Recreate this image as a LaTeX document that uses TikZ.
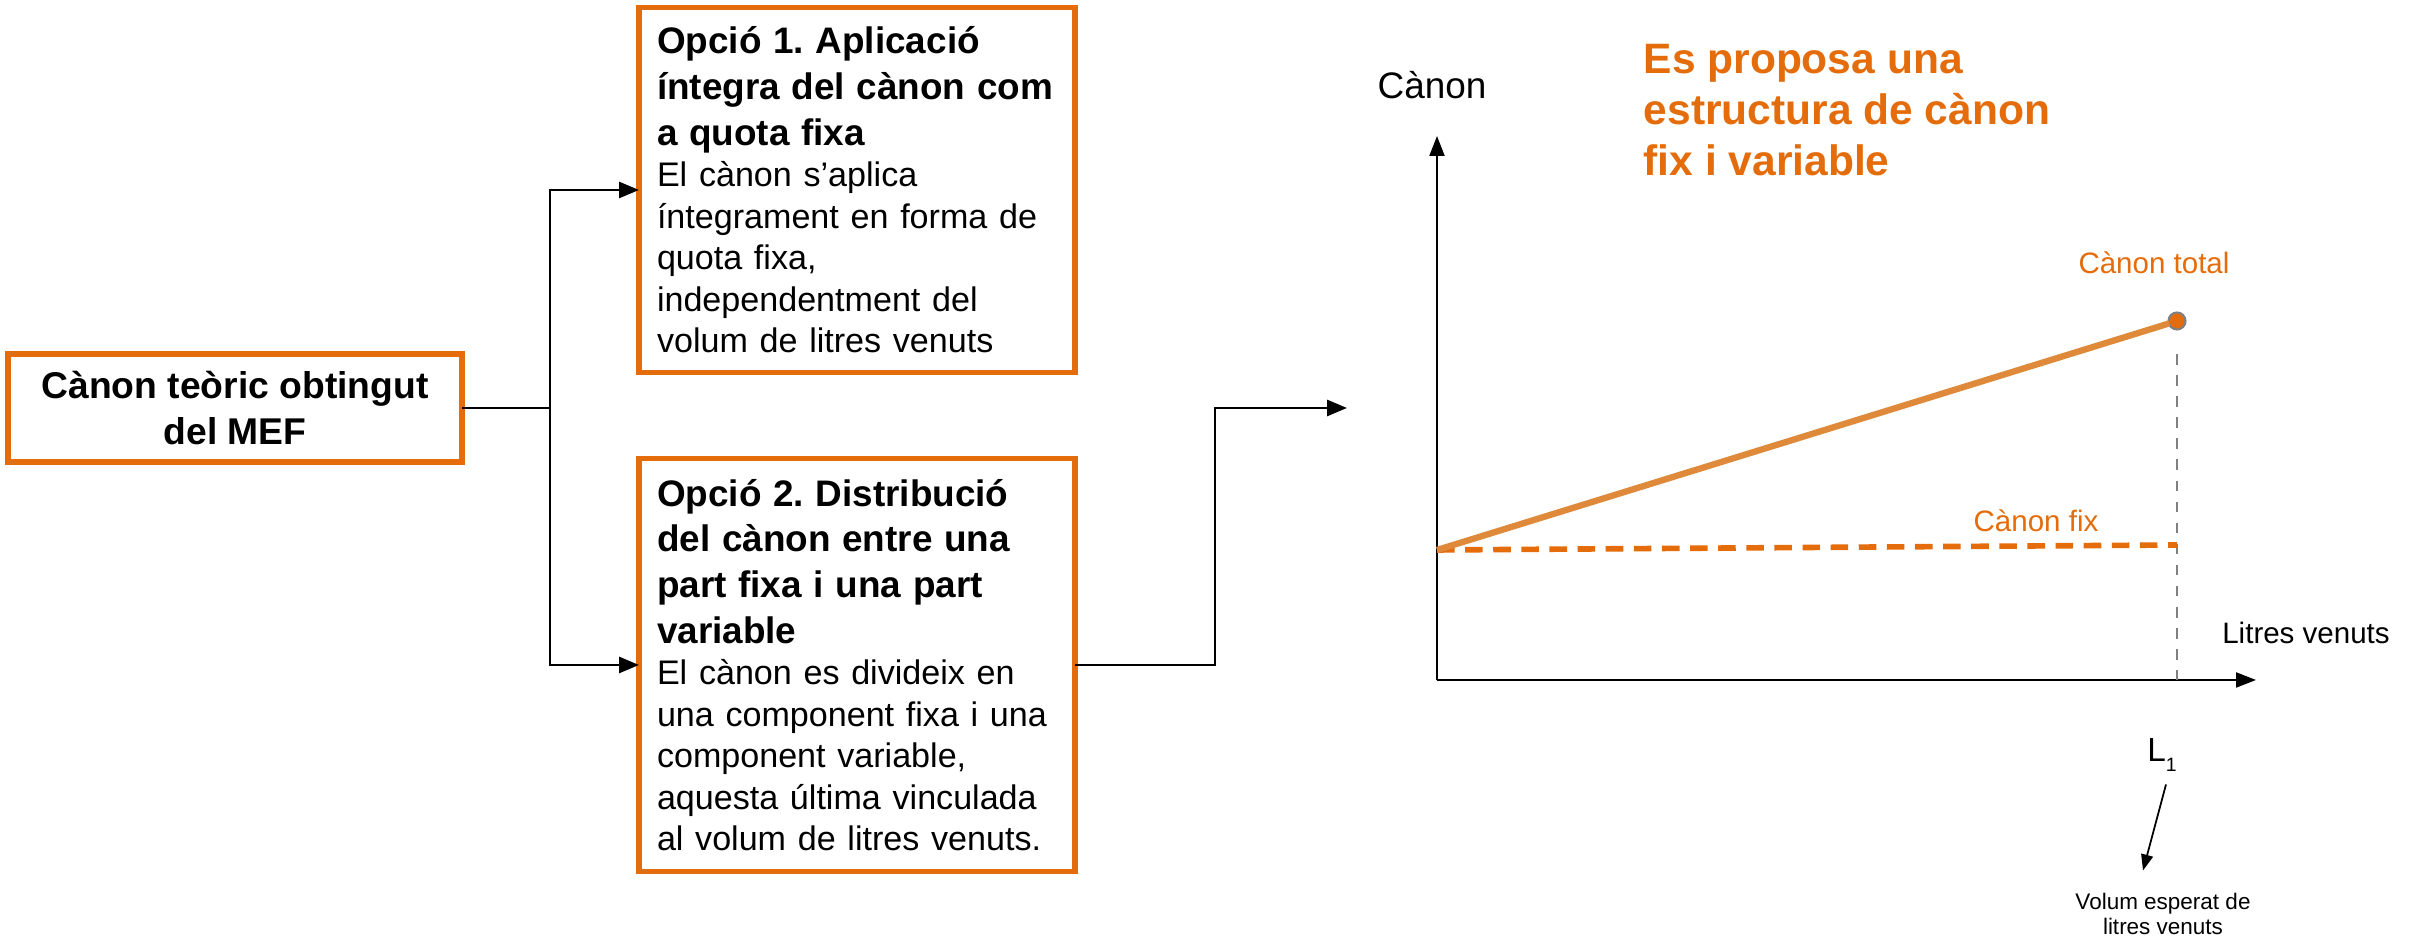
\documentclass[tikz,border=0pt]{standalone}
\usepackage{fontspec}
\setmainfont{Liberation Sans}
\frenchspacing
\usetikzlibrary{arrows.meta}
\definecolor{boxorange}{HTML}{E46C0A}
\definecolor{lineorange}{HTML}{DF8A3A}

\begin{document}
\begin{tikzpicture}[obox/.style={draw=boxorange, line width=1.5pt, fill=white, outer sep=0pt},
  optbox/.style={obox, text width=4.0cm, inner xsep=0.18cm, align=left},
  link/.style={line width=0.8pt, -{Triangle[length=2mm,width=1.6mm]}},
  axis/.style={line width=0.6pt, -{Triangle[length=2mm,width=1.5mm]}},
  small/.style={font=\fontsize{8.4}{10}\selectfont}]
\useasboundingbox (0,0) rectangle (24.15,9.39);

% left part: the options
\node[obox, minimum width=4.54cm, minimum height=1.08cm, align=center, font=\fontsize{10.6}{13}\selectfont\bfseries] (mef) at (2.35,5.31) {Cànon teòric obtingut\\del MEF};

\node[optbox, minimum height=3.65cm] (opt1) at (8.57,7.49) {%
{\fontsize{10.5}{13}\selectfont\bfseries Opció 1. Aplicació\\íntegra del cànon com\\a quota fixa\par}
{\fontsize{9.7}{11.8}\selectfont El cànon s’aplica\\íntegrament en forma de\\quota fixa,\\independentment del\\volum de litres venuts\par}};

\node[optbox, minimum height=4.13cm] (opt2) at (8.57,2.74) {%
{\fontsize{10.5}{13}\selectfont\bfseries Opció 2. Distribució\\del cànon entre una\\part fixa i una part\\variable\par}
{\fontsize{9.7}{11.8}\selectfont El cànon es divideix en\\una component fixa i una\\component variable,\\aquesta última vinculada\\al volum de litres venuts.\par}};

\coordinate (split) at (5.50,5.31);
\coordinate (plotin) at (13.47,5.31);
\draw[line width=0.8pt] (mef.east) -- (split);
\draw[link] (split) |- (opt1.west);
\draw[link] (split) |- (opt2.west);
\draw[link] (opt2.east) -- ++(1.40,0) |- (plotin);

% right part: the plot
\coordinate (O) at (14.37,2.59);
\coordinate (ytop) at (14.37,8.03);
\coordinate (xend) at (22.56,2.59);
\draw[axis] (O) -- (ytop);
\draw[axis] (O) -- (xend);
\node[font=\fontsize{10.5}{12}\selectfont] (ylab) at (14.32,8.54) {Cànon};
\node[small] (xlab) at (23.06,3.06) {Litres venuts};

\node[anchor=west, inner sep=0, align=left, text=boxorange, font=\fontsize{12.1}{14.5}\selectfont\bfseries] (title) at (16.43,8.29) {Es proposa una\\estructura de cànon\\fix i variable};

\coordinate (p0) at (14.37,3.89);
\coordinate (pfix) at (21.77,3.94);
\coordinate (vtop) at (21.77,5.85);
\coordinate (vbot) at (21.77,2.59);
\draw[gray, line width=0.5pt, dash pattern=on 3pt off 3pt] (vtop) -- (vbot);
\draw[boxorange, line width=1.6pt, dash pattern=on 5pt off 3pt] (p0) -- (pfix);
\node[circle, fill=boxorange, draw=gray, line width=0.6pt, minimum size=0.17cm, inner sep=0] (ptot) at (21.77,6.18) {};
\draw[lineorange, line width=1.8pt, shorten >=0.08cm] (p0) -- (ptot.center);
\node[small, text=boxorange] (totlab) at (21.54,6.76) {Cànon total};
\node[small, text=boxorange] (fixlab) at (20.36,4.18) {Cànon fix};

\node[font=\fontsize{9.5}{11}\selectfont, inner sep=0] (l1) at (21.62,1.84) {L\raisebox{-0.6ex}{\fontsize{5.5}{6}\selectfont 1}};
\node[align=center, inner sep=0, font=\fontsize{6.4}{7.1}\selectfont] (volum) at (21.63,0.25) {Volum esperat de\\litres venuts};
\draw[line width=0.5pt, -{Triangle[length=1.6mm,width=1.2mm]}] ([xshift=0.4mm,yshift=-1.2mm]l1.south) -- ([xshift=-2mm,yshift=2.2mm]volum.north);
\end{tikzpicture}
\end{document}
